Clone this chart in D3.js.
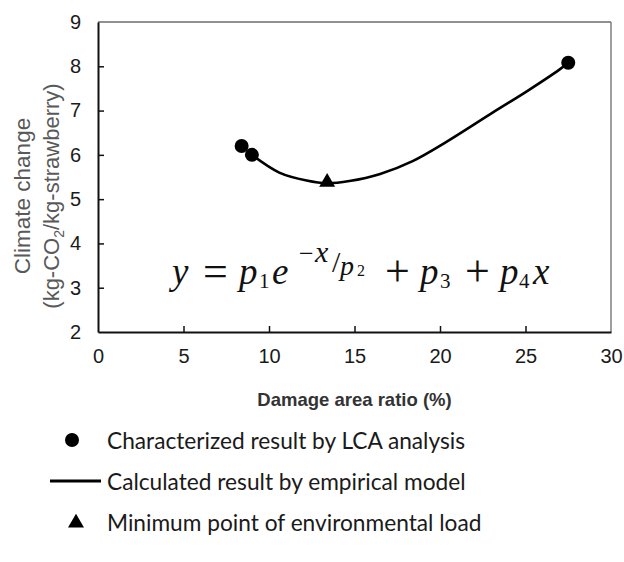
<!DOCTYPE html>
<html>
<head>
<meta charset="utf-8">
<script src="https://cdn.jsdelivr.net/npm/d3@7"></script>
<style>
  body { margin: 0; background: #fff; }
  svg { display: block; }
</style>
</head>
<body>
<div id="chart"></div>
<script>
// values
var lcaPoints = [[8.4, 6.2], [9.0, 6.0], [27.5, 8.08]];
var minPoint = [13.4, 5.36];
var modelCurve = [[9.0, 6.0], [10.6, 5.6], [12.2, 5.42], [13.4, 5.36], [14.7, 5.41],
                  [16.5, 5.57], [18.4, 5.86], [20.4, 6.30], [23.1, 6.96], [25.1, 7.44],
                  [27.0, 7.93], [27.5, 8.08]];
var xTicks = [0, 5, 10, 15, 20, 25, 30];
var yTicks = [2, 3, 4, 5, 6, 7, 8, 9];
var legendLabels = ['Characterized result by LCA analysis',
                    'Calculated result by empirical model',
                    'Minimum point of environmental load'];

var W = 624, H = 562;
var pl = 98, pr = 611, pt = 22, pb = 332;

var svg = d3.select('#chart').append('svg')
  .attr('width', W).attr('height', H);

var x = d3.scaleLinear().domain([0, 30]).range([pl, pr]);
var y = d3.scaleLinear().domain([2, 9]).range([pb, pt]);

// frame: top and right are thinner and grey
svg.append('line').attr('x1', pl).attr('x2', pr).attr('y1', pt).attr('y2', pt)
  .attr('stroke', '#6b6b6b').attr('stroke-width', 1.3);
svg.append('line').attr('x1', pr).attr('x2', pr).attr('y1', pt).attr('y2', pb)
  .attr('stroke', '#6b6b6b').attr('stroke-width', 1.3);

var xAxis = svg.append('g').attr('transform', 'translate(0,' + pb + ')')
  .call(d3.axisBottom(x).tickValues(xTicks).tickFormat(d3.format('d'))
    .tickSizeInner(-6).tickSizeOuter(0).tickPadding(17));
var yAxis = svg.append('g').attr('transform', 'translate(' + pl + ',0)')
  .call(d3.axisLeft(y).tickValues(yTicks).tickFormat(d3.format('d'))
    .tickSizeInner(-6).tickSizeOuter(0).tickPadding(17));

[xAxis, yAxis].forEach(function (a) {
  a.select('.domain').attr('stroke', '#111').attr('stroke-width', 2);
  a.selectAll('.tick line').attr('stroke', '#111').attr('stroke-width', 1.5);
  a.selectAll('.tick text')
    .attr('font-family', 'Liberation Sans, Arial, sans-serif')
    .attr('font-size', 20).attr('fill', '#1a1a1a');
});
// no inner tick marks at the ends
xAxis.selectAll('.tick').filter(function (d) { return d === 0 || d === 30; }).select('line').remove();
yAxis.selectAll('.tick').filter(function (d) { return d === 2 || d === 9; }).select('line').remove();

// axis titles
svg.append('text')
  .attr('x', (pl + pr) / 2).attr('y', 406)
  .attr('text-anchor', 'middle')
  .attr('font-family', 'Liberation Sans, Arial, sans-serif')
  .attr('font-size', 18.5).attr('font-weight', 'bold').attr('fill', '#333')
  .text('Damage area ratio (%)');

var yt = svg.append('g').attr('transform', 'translate(0,196) rotate(-90)');
yt.append('text').attr('x', 0).attr('y', 30)
  .attr('text-anchor', 'middle')
  .attr('font-family', 'Liberation Sans, Arial, sans-serif')
  .attr('font-size', 22.5).attr('fill', '#595959')
  .text('Climate change');
var yt2 = yt.append('text').attr('x', 0).attr('y', 59)
  .attr('text-anchor', 'middle')
  .attr('font-family', 'Liberation Sans, Arial, sans-serif')
  .attr('font-size', 22).attr('fill', '#595959');
yt2.append('tspan').text('(kg-CO');
yt2.append('tspan').attr('font-size', 14).attr('dy', 5).text('2');
yt2.append('tspan').attr('dy', -5).text('/kg-strawberry)');

// model curve
var line = d3.line()
  .x(function (d) { return x(d[0]); })
  .y(function (d) { return y(d[1]); })
  .curve(d3.curveCatmullRom.alpha(0.5));
svg.append('path').datum(modelCurve)
  .attr('d', line).attr('fill', 'none')
  .attr('stroke', '#000').attr('stroke-width', 2.6);

// LCA points
svg.selectAll('circle.lca').data(lcaPoints).enter()
  .append('circle').attr('class', 'lca')
  .attr('cx', function (d) { return x(d[0]); })
  .attr('cy', function (d) { return y(d[1]); })
  .attr('r', 7).attr('fill', '#000');

// minimum point
var tri = d3.symbol().type(d3.symbolTriangle).size(110);
svg.append('path').attr('d', tri)
  .attr('transform', 'translate(' + x(minPoint[0]) + ',' + (y(minPoint[1]) - 1) + ')')
  .attr('fill', '#000');

// equation, y = p1 e^(-x/p2) + p3 + p4 x  [glyph, x, baseline, size, italic]
var eqParts = [
  ['y', 172, 284, 37, true], ['=', 203, 286, 44, false],
  ['p', 239, 284, 37, true], ['1', 259, 288, 21, false], ['e', 272, 284, 37, true],
  ['\u2212', 299, 262, 26, false], ['x', 315, 262, 30, true], ['/', 332, 272, 30, false],
  ['p', 340, 275, 28, true], ['2', 357, 276, 16, false],
  ['+', 385, 286, 44, false], ['p', 420, 284, 37, true], ['3', 440, 288, 21, false],
  ['+', 465, 286, 44, false], ['p', 500, 284, 37, true], ['4', 519, 288, 21, false],
  ['x', 533, 284, 37, true]
];
svg.append('g').selectAll('text').data(eqParts).enter().append('text')
  .attr('x', function (d) { return d[1]; })
  .attr('y', function (d) { return d[2]; })
  .attr('font-size', function (d) { return d[3]; })
  .attr('font-style', function (d) { return d[4] ? 'italic' : 'normal'; })
  .attr('font-family', 'Liberation Serif, DejaVu Serif, serif')
  .attr('fill', '#111')
  .text(function (d) { return d[0]; });

// legend
var legY = [449, 490, 531];
var leg = svg.selectAll('g.leg').data(legendLabels).enter()
  .append('g').attr('class', 'leg')
  .attr('transform', function (d, i) { return 'translate(0,' + legY[i] + ')'; });
leg.append('text').attr('x', 107).attr('y', 0)
  .attr('font-family', 'Lato, Open Sans, sans-serif')
  .attr('font-size', 22.7).attr('fill', '#1a1a1a')
  .text(function (d) { return d; });

svg.append('circle').attr('cx', 72).attr('cy', 440).attr('r', 7).attr('fill', '#000');
svg.append('line').attr('x1', 50).attr('x2', 101).attr('y1', 481).attr('y2', 481)
  .attr('stroke', '#000').attr('stroke-width', 3);
svg.append('path').attr('d', tri).attr('transform', 'translate(76,523)').attr('fill', '#000');
</script>
</body>
</html>
